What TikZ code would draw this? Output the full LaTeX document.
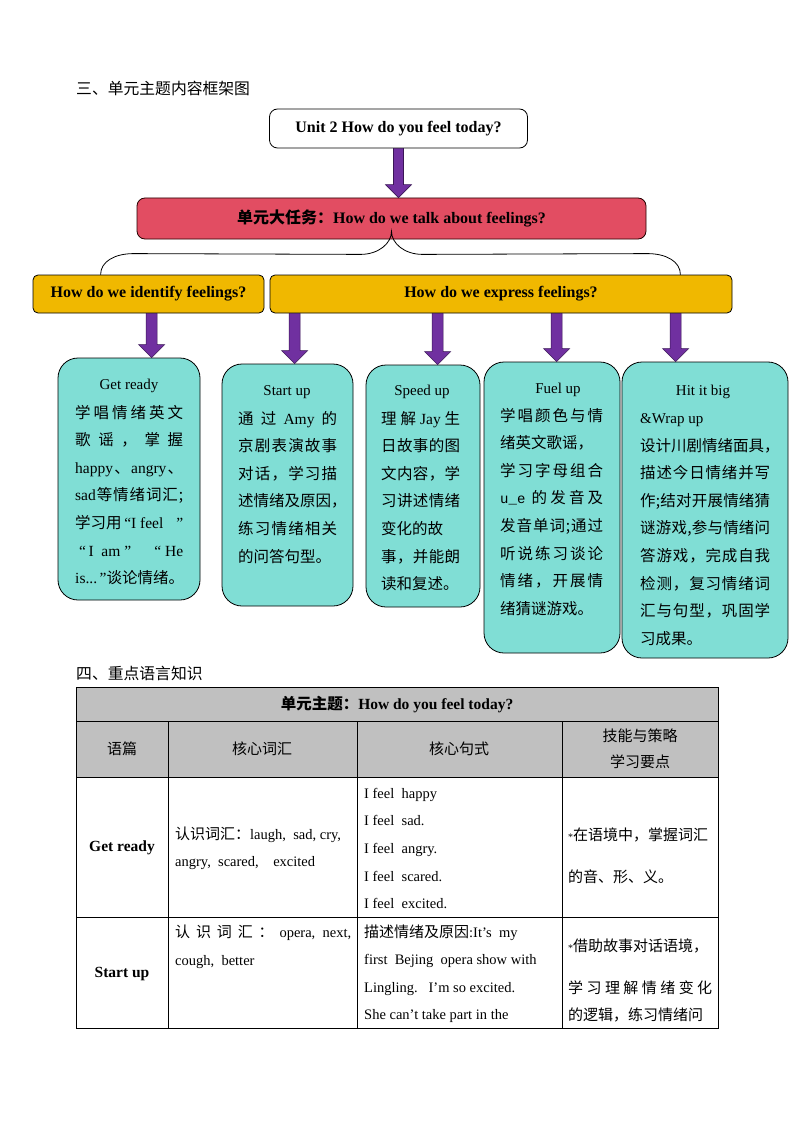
\documentclass[tikz,border=0pt]{standalone}
\usepackage{fontspec}
\setmainfont{Liberation Serif}
\setmonofont{Liberation Mono}
\newfontfamily\cjk{Noto Sans CJK SC}
\usetikzlibrary{calc}
\definecolor{arrowpurple}{HTML}{7030A0}
\definecolor{arrowedge}{HTML}{3A1656}
\definecolor{taskred}{HTML}{E24D62}
\definecolor{qyellow}{HTML}{F0B800}
\definecolor{stepteal}{HTML}{80DED5}
\definecolor{headgray}{HTML}{C0C0C0}
\makeatletter
\newcommand\spreadtext[2]{\makebox[#1][s]{\sp@loop#2\sp@nil}}
\def\sp@loop#1#2\sp@nil{#1\def\sp@rest{#2}\ifx\sp@rest\@empty\else\hfil\expandafter\sp@loop\sp@rest\sp@nil\fi}
\makeatother
\newcommand\bodytext[1]{\vtop{\hsize=220pt\parindent=0pt\parskip=0pt\fontsize{15.5}{27.6}\selectfont\cjk #1}}
\newcommand\blockarrow[3][5.5pt]{\path[barrow] let \p1=(#2), \p2=(#3) in
  (\x1-#1,\y1) -- (\x1-#1,\y2+13pt) -- (\x1-13pt,\y2+13pt) -- (\x1,\y2) --
  (\x1+13pt,\y2+13pt) -- (\x1+#1,\y2+13pt) -- (\x1+#1,\y1) -- cycle;}
\tikzset{
  pagehead/.style={anchor=west, inner sep=0pt, font=\fontsize{15.8}{18}\selectfont\cjk},
  unitbox/.style={draw=black, line width=0.8pt, rounded corners=8pt, fill=white, inner sep=0pt, font=\fontsize{16}{18}\selectfont\bfseries},
  taskbox/.style={draw=black!85!red, line width=0.8pt, rounded corners=8pt, fill=taskred, inner sep=0pt, font=\fontsize{16}{18}\selectfont\bfseries},
  qbox/.style={draw=black, line width=0.8pt, rounded corners=5pt, fill=qyellow, inner sep=0pt, font=\fontsize{16}{18}\selectfont\bfseries},
  stepbox/.style={draw=black, line width=0.8pt, rounded corners=20pt, fill=stepteal, inner sep=0pt},
  boxtitle/.style={anchor=base, inner sep=0pt, font=\fontsize{15}{18}\selectfont},
  boxbody/.style={anchor=base west, inner sep=0pt},
  barrow/.style={fill=arrowpurple, draw=arrowedge, line width=0.6pt},
  brace/.style={draw=black, line width=0.8pt},
  tabline/.style={draw=black, line width=0.9pt},
  tabtext/.style={anchor=base west, inner sep=0pt, font=\fontsize{14.5}{17}\selectfont},
  tabcjk/.style={inner sep=0pt, font=\fontsize{15}{18}\selectfont\cjk},
  tabbold/.style={inner sep=0pt, font=\fontsize{15.5}{18}\selectfont\bfseries},
}
\begin{document}
\begin{tikzpicture}[x=1pt,y=-1pt]
\useasboundingbox[fill=white] (0,0) rectangle (794,1123);

% ---------- heading ----------
\node[pagehead] (h1) at (76,88) {三、单元主题内容框架图};

% ---------- boxes ----------
\node[unitbox, minimum width=258pt, minimum height=39pt] (unit) at (398.5,128.5) {Unit 2 How do you feel today?};
\node[taskbox, minimum width=509pt, minimum height=41pt] (task) at (391.5,218.5) {{\cjk 单元大任务：}How do we talk about feelings?};
\node[qbox, minimum width=231pt, minimum height=38pt] (qid) at (148.5,294) {How do we identify feelings?};
\node[qbox, minimum width=462pt, minimum height=38pt] (qex) at (501,294) {How do we express feelings?};

\node[stepbox, minimum width=142pt, minimum height=242pt] (gr) at (129,479) {};
\node[stepbox, minimum width=131pt, minimum height=242pt] (su) at (287.5,485) {};
\node[stepbox, minimum width=114pt, minimum height=242pt] (sp) at (423,486) {};
\node[stepbox, minimum width=136pt, minimum height=291pt] (fu) at (552,507.5) {};
\node[stepbox, minimum width=166pt, minimum height=296pt] (hb) at (705,510) {};

% ---------- brace ----------
\coordinate (bL) at ($(qid.north west)+(68,0)$);
\coordinate (bR) at ($(qex.north east)+(-52,0)$);
\coordinate (bT) at ($(task.south)+(0,-8)$);
\draw[brace] (bL) .. controls ($(bL)+(0,-13)$) and ($(bL)+(14,-21)$) .. ($(bL)+(33,-21)$)
  -- ($(bT)+(-31,23)$) .. controls ($(bT)+(-13,23)$) and ($(bT)+(0,12)$) .. (bT)
  .. controls ($(bT)+(0,12)$) and ($(bT)+(13,23)$) .. ($(bT)+(31,23)$)
  -- ($(bR)+(-33,-21)$) .. controls ($(bR)+(-14,-21)$) and ($(bR)+(0,-13)$) .. (bR);

% ---------- arrows ----------
\blockarrow[5pt]{unit.south}{task.north}
\coordinate (a1) at ($(qid.south west)+(119,0)$);
\coordinate (a2) at ($(qex.south west)+(25,0)$);
\coordinate (a3) at ($(qex.south west)+(168,0)$);
\coordinate (a4) at ($(qex.south west)+(287,0)$);
\coordinate (a5) at ($(qex.south west)+(406,0)$);
\blockarrow{a1}{a1 |- gr.north}
\blockarrow{a2}{a2 |- su.north}
\blockarrow{a3}{a3 |- sp.north}
\blockarrow{a4}{a4 |- fu.north}
\blockarrow{a5}{a5 |- hb.north}

% ---------- box texts ----------
\node[boxtitle] (grh) at (129,389) {Get ready};
\node[boxbody] (grt) at (75,418) {\bodytext{%
\spreadtext{108pt}{学唱情绪英文}\par
\spreadtext{108pt}{歌谣，掌握}\par
\makebox[108pt][s]{{\rmfamily happy}\hfil、\hfil{\rmfamily angry}\hfil、}\par
\spreadtext{108pt}{{{\rmfamily sad}}等情绪词汇;}\par
\makebox[108pt][s]{学习用{\rmfamily\,“I feel\hfil”}}\par
\makebox[108pt][s]{{\rmfamily \ “\,I\ \ am\ ”}\hfill{\rmfamily “\ He}}\par
{\rmfamily is...\,”}谈论情绪。}};

\node[boxtitle] (suh) at (287,395) {Start up};
\node[boxbody] (sut) at (238,424) {\bodytext{%
\spreadtext{99pt}{通过{{\rmfamily Amy}}的}\par
\spreadtext{99pt}{京剧表演故事}\par
\spreadtext{99pt}{对话，学习描}\par
述情绪及原因，\par
\spreadtext{99pt}{练习情绪相关}\par
的问答句型。}};

\node[boxtitle] (sph) at (422,395) {Speed up};
\node[boxbody] (spt) at (381,424) {\bodytext{%
\spreadtext{79pt}{理解{{\rmfamily Jay}}生}\par
\spreadtext{79pt}{日故事的图}\par
\spreadtext{79pt}{文内容，学}\par
\spreadtext{79pt}{习讲述情绪}\par
变化的故\par
\spreadtext{79pt}{事，并能朗}\par
读和复述。}};

\node[boxtitle] (fuh) at (558,393) {Fuel up};
\node[boxbody] (fut) at (500,421) {\bodytext{%
\spreadtext{103pt}{学唱颜色与情}\par
绪英文歌谣，\par
\spreadtext{103pt}{学习字母组合}\par
\makebox[103pt][s]{{\ttfamily\fontsize{14}{16}\selectfont u\_e}\hfil\hfil 的\hfil 发\hfil 音\hfil 及}\par
\spreadtext{103pt}{发音单词;通过}\par
\spreadtext{103pt}{听说练习谈论}\par
\spreadtext{103pt}{情绪，开展情}\par
绪猜谜游戏。}};

\node[boxtitle] (hbh) at (703,395) {Hit it big};
\node[boxbody] (hbt) at (640,423.5) {\bodytext{%
{\rmfamily\fontsize{15}{18}\selectfont\&Wrap up}\par
设计川剧情绪面具，\par
\spreadtext{130pt}{描述今日情绪并写}\par
\spreadtext{130pt}{作;结对开展情绪猜}\par
\spreadtext{130pt}{谜游戏,参与情绪问}\par
\spreadtext{130pt}{答游戏，完成自我}\par
\spreadtext{130pt}{检测，复习情绪词}\par
\spreadtext{130pt}{汇与句型，巩固学}\par
习成果。}};

% ---------- section 4 ----------
\node[pagehead] (h2) at (76,673) {四、重点语言知识};

\fill[headgray] (76,687) rectangle (718,777);
\draw[tabline] (76,687) rectangle (718,1028);
\draw[tabline] (76,721) -- (718,721);
\draw[tabline] (76,777) -- (718,777);
\draw[tabline] (76,917) -- (718,917);
\draw[tabline] (168,721) -- (168,1028);
\draw[tabline] (357,721) -- (357,1028);
\draw[tabline] (562,721) -- (562,1028);

\node[tabbold] (th) at (397,704) {{\cjk 单元主题：}How do you feel today?};
\node[tabcjk] (c1) at (122,749) {语篇};
\node[tabcjk] (c2) at (262,749) {核心词汇};
\node[tabcjk] (c3) at (459,749) {核心句式};
\node[tabcjk] (c4a) at (640,736) {技能与策略};
\node[tabcjk] (c4b) at (640,762) {学习要点};

% row Get ready
\node[tabbold] (r1) at (122,848) {Get ready};
\node[tabtext] (r1v1) at (175,839) {{\cjk\fontsize{15}{18}\selectfont 认识词汇：}laugh,\ \ sad, cry,};
\node[tabtext] (r1v2) at (175,866) {angry,\ \ scared,\ \ \ \ excited};
\node[tabtext] (r1s1) at (364,798) {I feel\ \ happy};
\node[tabtext] (r1s2) at (364,825) {I feel\ \ sad.};
\node[tabtext] (r1s3) at (364,853) {I feel\ \ angry.};
\node[tabtext] (r1s4) at (364,881) {I feel\ \ scared.};
\node[tabtext] (r1s5) at (364,908) {I feel\ \ excited.};
\node[tabtext] (r1k1) at (568,840) {{\fontsize{10}{10}\selectfont *}{\cjk\fontsize{15}{18}\selectfont 在语境中，掌握词汇}};
\node[tabtext] (r1k2) at (568,882) {{\cjk\fontsize{15}{18}\selectfont 的音、形、义。}};

% row Start up
\node[tabbold] (r2) at (122,974) {Start up};
\node[tabtext] (r2v1) at (175,937) {\makebox[176pt][s]{{\cjk\fontsize{15}{18}\selectfont 认\hfil 识\hfil 词\hfil 汇\hfil ：}\hfil opera,\ \ next,}};
\node[tabtext] (r2v2) at (175,965) {cough,\ \ better};
\node[tabtext] (r2s1) at (364,937) {{\cjk\fontsize{15}{18}\selectfont 描述情绪及原因}:It’s\ \ my};
\node[tabtext] (r2s2) at (364,964) {first\ \ Bejing\ \ opera show with};
\node[tabtext] (r2s3) at (364,992) {Lingling.\ \ \ I’m so excited.};
\node[tabtext] (r2s4) at (364,1019) {She can’t take part in the};
\node[tabtext] (r2k1) at (568,951) {{\fontsize{10}{10}\selectfont *}{\cjk\fontsize{15}{18}\selectfont 借助故事对话语境，}};
\node[tabtext] (r2k2) at (568,993) {{\cjk\fontsize{15}{18}\selectfont\spreadtext{144pt}{学习理解情绪变化}}};
\node[tabtext] (r2k3) at (568,1020) {{\cjk\fontsize{15}{18}\selectfont 的逻辑，练习情绪问}};
\end{tikzpicture}
\end{document}
